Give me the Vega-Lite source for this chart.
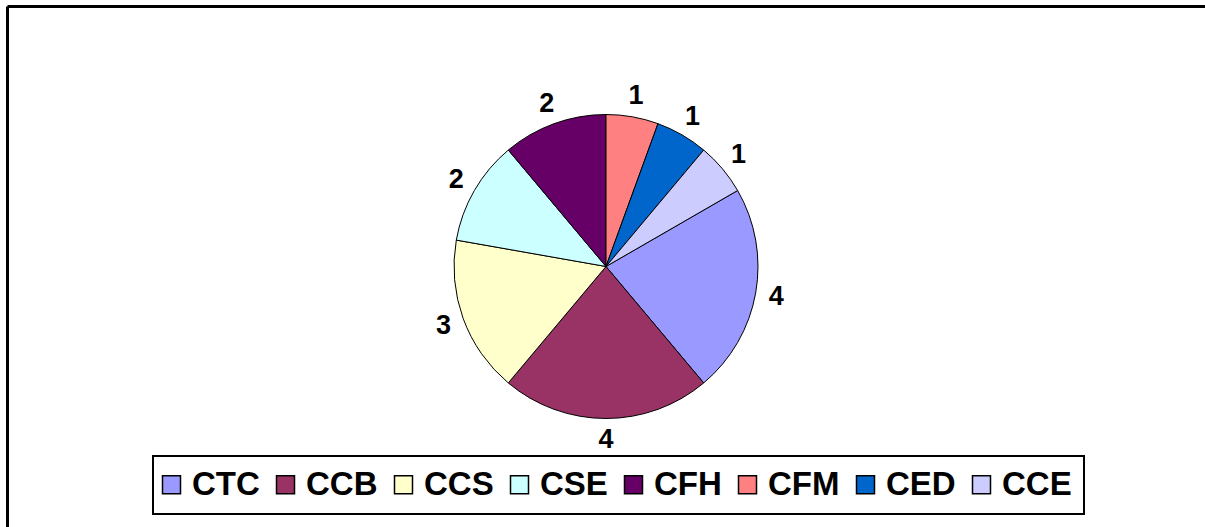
{
  "$schema": "https://vega.github.io/schema/vega-lite/v6.json",
  "width": 1198,
  "height": 521,
  "autosize": "none",
  "padding": {"left": 7, "top": 6, "right": 0, "bottom": 0},
  "background": "white",
  "config": {
    "view": {"stroke": null},
    "font": "Liberation Sans",
    "legend": {"strokeWidth": 2}
  },
  "data": {
    "values": [
      {"code": "CTC", "count": 4, "order": 1},
      {"code": "CCB", "count": 4, "order": 2},
      {"code": "CCS", "count": 3, "order": 3},
      {"code": "CSE", "count": 2, "order": 4},
      {"code": "CFH", "count": 2, "order": 5},
      {"code": "CFM", "count": 1, "order": 6},
      {"code": "CED", "count": 1, "order": 7},
      {"code": "CCE", "count": 1, "order": 8}
    ]
  },
  "layer": [
    {
      "mark": {"type": "point", "opacity": 0},
      "encoding": {
        "x": {"datum": 0, "type": "quantitative", "scale": {"domain": [0, 1]}, "axis": {"orient": "top", "domain": true, "domainColor": "black", "domainWidth": 3, "ticks": false, "labels": false, "grid": false, "title": null}},
        "y": {"datum": 0, "type": "quantitative", "scale": {"domain": [0, 1]}, "axis": {"orient": "left", "domain": true, "domainColor": "black", "domainWidth": 3, "ticks": false, "labels": false, "grid": false, "title": null}}
      }
    },
    {
      "mark": {"type": "arc", "outerRadius": 152, "stroke": "black", "strokeWidth": 1},
      "encoding": {
        "theta": {"field": "count", "type": "quantitative", "stack": true, "scale": {"range": [1.0472, 7.3304]}},
        "order": {"field": "order", "type": "quantitative"},
        "color": {
          "field": "code",
          "type": "nominal",
          "scale": {
            "domain": ["CTC", "CCB", "CCS", "CSE", "CFH", "CFM", "CED", "CCE"],
            "range": ["#9999FF", "#993366", "#FFFFCC", "#CCFFFF", "#660066", "#FF8080", "#0066CC", "#CCCCFF"]
          },
          "legend": {
            "title": null,
            "orient": "none",
            "legendX": 146,
            "legendY": 450,
            "direction": "horizontal",
            "columns": 8,
            "symbolType": "square",
            "symbolSize": 324,
            "symbolStrokeColor": "black",
            "symbolStrokeWidth": 1.5,
            "symbolOpacity": 1,
            "symbolOffset": -10,
            "labelFont": "Liberation Sans",
            "labelFontWeight": "bold",
            "labelFontSize": 33,
            "labelColor": "black",
            "labelOffset": 4,
            "columnPadding": 13,
            "padding": 12,
            "strokeColor": "black",
            "fillColor": "white"
          }
        }
      }
    },
    {
      "mark": {"type": "text", "radius": 173, "font": "Liberation Sans", "fontWeight": "bold", "fontSize": 27, "color": "black"},
      "encoding": {
        "theta": {"field": "count", "type": "quantitative", "stack": true, "scale": {"range": [1.0472, 7.3304]}},
        "order": {"field": "order", "type": "quantitative"},
        "text": {"field": "count", "type": "quantitative"}
      }
    }
  ]
}
